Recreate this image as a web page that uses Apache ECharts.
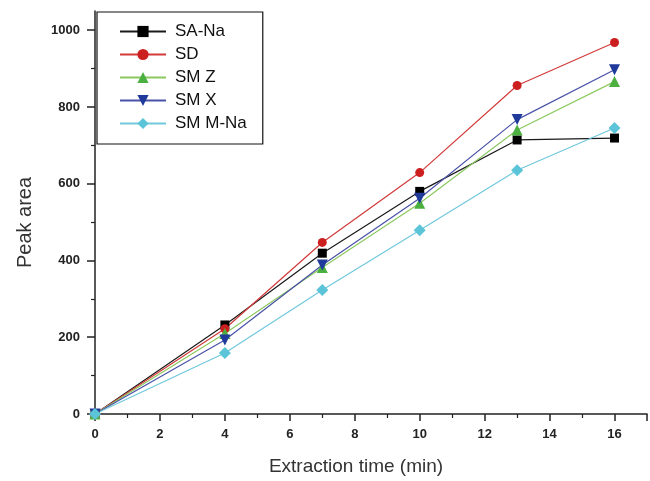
<!DOCTYPE html>
<html>
<head>
<meta charset="utf-8">
<script src="https://cdn.jsdelivr.net/npm/echarts@6/dist/echarts.min.js"></script>
<style>
  html, body { margin: 0; padding: 0; background: #fff; }
  #chart { width: 650px; height: 481px; }
</style>
</head>
<body>
<div id="chart"></div>
<script>
// Extraction time (min) and peak areas for each sulfonamide
const time = [0, 4, 7, 10, 13, 16];
const saNa = [0, 232, 419, 580, 714, 719];
const sd = [0, 222, 447, 629, 856, 968];
const smz = [0, 210, 382, 549, 740, 866];
const smx = [0, 193, 388, 562, 767, 897];
const smmNa = [0, 159, 323, 479, 635, 745];

const xTicks = [0, 2, 4, 6, 8, 10, 12, 14, 16];
const yTicks = [0, 200, 400, 600, 800, 1000];

const pairs = vals => time.map((t, i) => [t, vals[i]]);

const FONT = '"Liberation Sans", Arial, sans-serif';

const defs = [
  { name: 'SA-Na',   vals: saNa,  line: '#1a1a1a', mark: '#000000', symbol: 'rect',     size: 9 },
  { name: 'SD',      vals: sd,    line: '#d23a3a', mark: '#cc2020', symbol: 'circle',   size: 9 },
  { name: 'SM Z',    vals: smz,   line: '#8cc860', mark: '#4cb040', symbol: 'triangle', size: 11 },
  { name: 'SM X',    vals: smx,   line: '#4a52a8', mark: '#1f3a9a', symbol: 'path://M0,0L10,0L5,10Z', size: 11 },
  { name: 'SM M-Na', vals: smmNa, line: '#70c8dc', mark: '#5cc4d8', symbol: 'diamond',  size: 12 }
];

const chart = echarts.init(document.getElementById('chart'), null, { renderer: 'canvas' });

chart.setOption({
  backgroundColor: '#ffffff',
  animation: false,
  grid: { left: 95, right: 0, top: 11, bottom: 67, containLabel: false },
  legend: {
    orient: 'vertical',
    left: 97,
    top: 12,
    padding: [11, 16, 12, 22],
    itemWidth: 46,
    itemHeight: 14,
    itemGap: 6,
    borderColor: '#111',
    borderWidth: 1.2,
    backgroundColor: '#fff',
    data: defs.map(d => d.name),
    textStyle: { fontFamily: FONT, fontSize: 17, color: '#111', padding: [0, 0, 0, 4] }
  },
  xAxis: {
    type: 'value',
    min: 0,
    max: 17,
    interval: 2,
    name: 'Extraction time (min)',
    nameLocation: 'middle',
    nameGap: 43,
    nameTextStyle: { fontFamily: FONT, fontSize: 19, color: '#333', padding: [0, 30, 0, 0] },
    axisLine: { lineStyle: { color: '#222', width: 1.5 } },
    axisTick: { show: true, inside: false, length: 7, lineStyle: { color: '#222', width: 1.5 } },
    minorTick: { show: true, splitNumber: 2, length: 4, lineStyle: { color: '#222', width: 1.2 } },
    splitLine: { show: false },
    axisLabel: {
      margin: 14,
      fontFamily: FONT, fontSize: 13, fontWeight: 'bold', color: '#222',
      formatter: v => (xTicks.includes(v) ? String(v) : '')
    }
  },
  yAxis: {
    type: 'value',
    min: 0,
    max: 1050,
    interval: 200,
    name: 'Peak area',
    nameLocation: 'middle',
    nameRotate: 90,
    nameGap: 60,
    nameTextStyle: { fontFamily: FONT, fontSize: 20, color: '#333', padding: [0, 20, 0, 0] },
    axisLine: { show: true, lineStyle: { color: '#222', width: 1.5 } },
    axisTick: { show: true, inside: false, length: 8, customValues: yTicks, lineStyle: { color: '#222', width: 1.5 } },
    minorTick: { show: true, splitNumber: 2, length: 4, lineStyle: { color: '#222', width: 1.2 } },
    splitLine: { show: false },
    axisLabel: {
      margin: 15,
      customValues: yTicks,
      formatter: v => String(v),
      fontFamily: FONT, fontSize: 13, fontWeight: 'bold', color: '#222'
    }
  },
  series: defs.map(d => ({
    name: d.name,
    type: 'line',
    data: pairs(d.vals),
    symbol: d.symbol,
    symbolSize: d.size,
    showSymbol: true,
    lineStyle: { color: d.line, width: 1.2 },
    itemStyle: { color: d.mark },
    z: 2
  }))
});
</script>
</body>
</html>
